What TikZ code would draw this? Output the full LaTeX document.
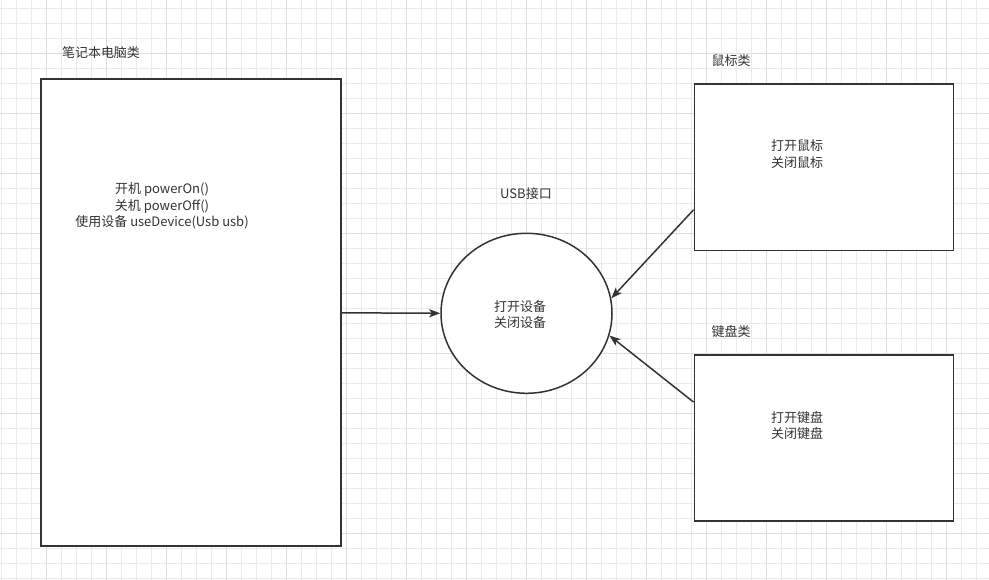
\documentclass[tikz,border=0pt]{standalone}
\usepackage{fontspec}
\setmainfont{Noto Sans CJK SC}
\usetikzlibrary{arrows.meta,shapes.geometric}
\definecolor{linea}{HTML}{333333}
\definecolor{rejilla}{HTML}{EBEBEB}
\definecolor{rejillam}{HTML}{DEDEDE}

\begin{document}
\begin{tikzpicture}[x=1pt,y=-1pt,
  clsbox/.style={rectangle, draw=linea, line width=1.7pt, fill=white},
  iface/.style={ellipse, draw=linea, line width=1.5pt, fill=white, minimum width=171pt, minimum height=160pt, inner sep=0pt},
  caption/.style={font=\fontsize{13}{15}\selectfont, text=linea, inner sep=0pt},
  body/.style={font=\fontsize{13}{16.5}\selectfont, text=linea, align=center, inner sep=0pt},
  lin/.style={-{Stealth[length=11pt,width=8pt,inset=2.5pt]}, draw=linea, line width=1.5pt}
]
\useasboundingbox (0,0) rectangle (989,580);
% fondo con rejilla
\fill[white] (0,0) rectangle (989,580);
\foreach \i in {0,...,65} \draw[rejilla, line width=0.8pt] (1.7+15*\i,0) -- (1.7+15*\i,580);
\foreach \i in {0,...,38} \draw[rejilla, line width=0.8pt] (0,8.3+15*\i) -- (989,8.3+15*\i);
\foreach \i in {0,...,15} \draw[rejillam, line width=0.8pt] (46.7+60*\i,0) -- (46.7+60*\i,580);
\foreach \i in {0,...,8} \draw[rejillam, line width=0.8pt] (0,53.3+60*\i) -- (989,53.3+60*\i);
% clases
\node[clsbox, minimum width=300pt, minimum height=467pt] (laptop) at (191,312.8) {};
\node[clsbox, minimum width=259pt, minimum height=166.5pt] (mouse) at (824,167.3) {};
\node[clsbox, minimum width=259pt, minimum height=166pt] (kbd) at (824,438) {};
% interfaz
\node[iface] (usb) at (526.5,313.3) {};
% titulos
\node[caption] (laptopTit) at (101,53) {笔记本电脑类};
\node[caption] (usbTit) at (526,194) {USB接口};
\node[caption] (mouseTit) at (731,60.5) {鼠标类};
\node[caption] (kbdTit) at (731,331.5) {键盘类};
% contenidos
\node[body] (laptopTxt) at (162,206) {开机 powerOn()\\关机 powerOff()\\使用设备 useDevice(Usb usb)};
\node[body] (usbTxt) at (520,314.5) {打开设备\\关闭设备};
\node[body] (mouseTxt) at (797,154.3) {打开鼠标\\关闭鼠标};
\node[body] (kbdTxt) at (797,425.3) {打开键盘\\关闭键盘};
% flechas
\draw[lin] (laptop.east) -- (usb.west);
\draw[lin] ([yshift=41.7pt]mouse.south west) -- (usb.10);
\draw[lin] ([yshift=-48pt]kbd.north west) -- (usb.-15);
\end{tikzpicture}
\end{document}
